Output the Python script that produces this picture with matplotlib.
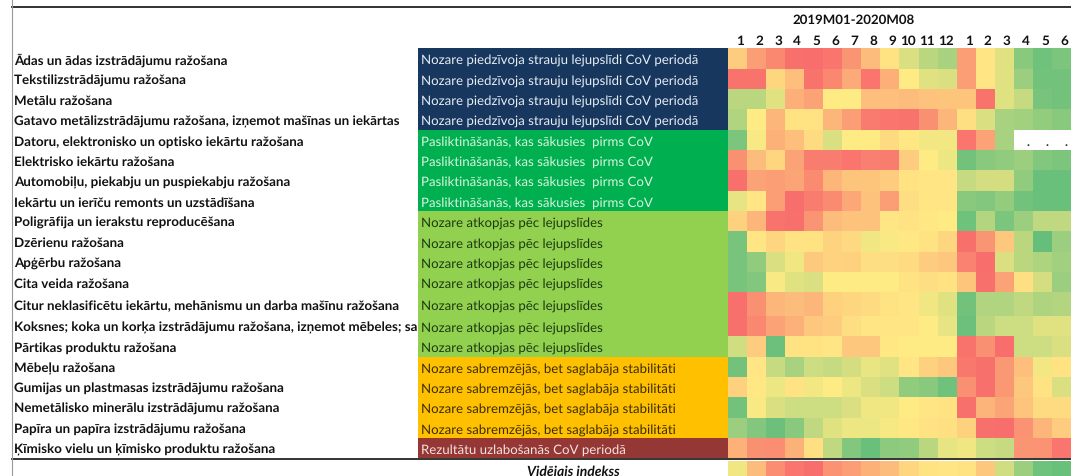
import numpy as np
import matplotlib
matplotlib.use('Agg')
import matplotlib.pyplot as plt
from matplotlib.colors import LinearSegmentedColormap

# Sector names, groups and month labels
sectors = [
    'Ādas un ādas izstrādājumu ražošana',
    'Tekstilizstrādājumu ražošana',
    'Metālu ražošana',
    'Gatavo metālizstrādājumu ražošana, izņemot mašīnas un iekārtas',
    'Datoru, elektronisko un optisko iekārtu ražošana',
    'Elektrisko iekārtu ražošana',
    'Automobiļu, piekabju un puspiekabju ražošana',
    'Iekārtu un ierīču remonts un uzstādīšana',
    'Poligrāfija un ierakstu reproducēšana',
    'Dzērienu ražošana',
    'Apģērbu ražošana',
    'Cita veida ražošana',
    'Citur neklasificētu iekārtu, mehānismu un darba mašīnu ražošana',
    'Koksnes; koka un korķa izstrādājumu ražošana, izņemot mēbeles; sa',
    'Pārtikas produktu ražošana',
    'Mēbeļu ražošana',
    'Gumijas un plastmasas izstrādājumu ražošana',
    'Nemetālisko minerālu izstrādājumu ražošana',
    'Papīra un papīra izstrādājumu ražošana',
    'Ķīmisko vielu un ķīmisko produktu ražošana',
]
group_names = [
    'Nozare piedzīvoja strauju lejupslīdi CoV periodā',
    'Pasliktināšanās, kas sākusies  pirms CoV',
    'Nozare atkopjas pēc lejupslīdes',
    'Nozare sabremzējās, bet saglabāja stabilitāti',
    'Rezultātu uzlabošanās CoV periodā',
]
group_sizes = [4, 4, 7, 4, 1]
group_colors = ['#17375E', '#00B050', '#92D050', '#FFC000', '#953735']
group_text = ['#E8EEF4', '#D8F5DC', '#1C3A10', '#3A2C00', '#F4E4E2']
months = [1, 2, 3, 4, 5, 6, 7, 8, 9, 10, 11, 12, 1, 2, 3, 4, 5, 6]

# Index: 0 = red, 50 = yellow, 100 = green
nan = np.nan
index_rows = [
    [38, 20, 12, 3, 2, 5, 17, 32, 47, 62, 72, 78, 20, 48, 60, 88, 96, 92],
    [4, 4, 42, 33, 4, 12, 25, 5, 27, 50, 60, 62, 20, 48, 60, 82, 95, 95],
    [72, 72, 60, 27, 22, 50, 50, 33, 33, 32, 34, 35, 35, 4, 60, 68, 93, 95],
    [75, 50, 30, 47, 47, 30, 20, 7, 5, 4, 15, 30, 46, 62, 78, 80, 84, 88],
    [92, 52, 28, 33, 44, 62, 50, 50, 44, 49, 54, 54, 5, 22, 78, nan, nan, nan],
    [15, 32, 42, 22, 8, 8, 5, 9, 8, 38, 50, 56, 95, 88, 85, 82, 90, 92],
    [3, 22, 20, 23, 13, 30, 35, 35, 38, 47, 48, 48, 68, 64, 64, 85, 98, 98],
    [58, 48, 20, 2, 8, 13, 24, 34, 20, 45, 48, 48, 88, 90, 84, 95, 98, 98],
    [40, 30, 4, 3, 17, 32, 34, 34, 48, 47, 49, 50, 96, 74, 92, 82, 70, 70],
    [93, 48, 42, 47, 47, 41, 43, 55, 52, 49, 47, 42, 3, 17, 36, 72, 99, 82],
    [93, 85, 62, 55, 37, 41, 40, 45, 45, 44, 38, 36, 10, 2, 62, 72, 76, 80],
    [93, 90, 52, 60, 62, 50, 50, 50, 50, 47, 45, 47, 35, 3, 22, 46, 64, 82],
    [3, 15, 30, 32, 30, 40, 42, 44, 47, 48, 55, 60, 95, 75, 75, 70, 76, 74],
    [3, 12, 22, 28, 36, 38, 45, 48, 48, 48, 50, 58, 97, 72, 66, 66, 60, 60],
    [65, 38, 97, 47, 47, 48, 36, 36, 49, 50, 50, 50, 4, 15, 2, 66, 66, 62],
    [95, 48, 68, 78, 66, 68, 64, 57, 60, 48, 40, 36, 6, 3, 18, 33, 54, 47],
    [40, 49, 56, 47, 54, 50, 56, 62, 66, 85, 88, 96, 15, 3, 18, 36, 47, 62],
    [95, 52, 62, 66, 66, 66, 62, 55, 55, 50, 48, 47, 3, 29, 23, 35, 44, 44],
    [82, 90, 97, 88, 70, 60, 56, 56, 53, 49, 47, 46, 40, 3, 2, 16, 30, 38],
    [28, 15, 14, 28, 46, 70, 90, 98, 86, 85, 72, 58, 55, 66, 68, 17, 16, 5],
]
average_row = [55, 32, 14, 5, 2, 16, 20, 28, 32, 42, 47, 48, 47, 36, 65, 82, 96, 98]

# Excel style three colour scale
cmap = LinearSegmentedColormap.from_list('excel', ['#F8696B', '#FFEB84', '#63BE7B'])
cmap.set_bad('white')

plt.rcParams['font.family'] = ['Lato', 'DejaVu Sans']
plt.rcParams['text.hinting'] = 'none'  # hinting snaps widths at these small sizes
fig = plt.figure(figsize=(10.71, 4.77), dpi=100)
# Whole figure is one axes in pixel units, y pointing down
ax = fig.add_axes([0, 0, 1, 1])
ax.set_xlim(0, 1071)
ax.set_ylim(477, 0)
ax.axis('off')

# Table layout, row 13 is taller than the rest
top = 49.3
row_h = 20.35
heights = [row_h] * 20
heights[12] = 23.4
y_edges = top + np.concatenate([[0], np.cumsum(heights)])
x_edges = 728 + 19.05 * np.arange(19)
y_mid = (y_edges[:-1] + y_edges[1:]) / 2

ax.pcolormesh(x_edges, y_edges, np.ma.masked_invalid(index_rows), cmap=cmap, vmin=0, vmax=100, zorder=2)
ax.pcolormesh(x_edges, [462, 477], [average_row], cmap=cmap, vmin=0, vmax=100, zorder=2)

# Sector names
for y, name in zip(y_mid, sectors):
    ax.text(14, y + 1, name, fontsize=9.68, fontweight='bold', color='#111111', va='center', ha='left', zorder=1)

# Group column
start = 0
for name, size, color, tcolor in zip(group_names, group_sizes, group_colors, group_text):
    ax.fill_between([417.5, 728.2], y_edges[start], y_edges[start + size], color=color, lw=0, zorder=2)
    for y in y_mid[start:start + size]:
        ax.text(421, y + 1, name, fontsize=9.5, color=tcolor, va='center', ha='left', zorder=3)
    start += size

# Header
ax.text(853.5, 20.5, '2019M01-2020M08', fontsize=9.5, fontweight='bold', color='#111111', ha='center', va='center')
for right, m in zip(x_edges[1:], months):
    ax.text(right - 3, 41, str(m), fontsize=9.7, fontweight='bold', color='#111111', ha='right', va='center')

# Missing months of the computer sector
for right in x_edges[-3:]:
    ax.text(right - 3, y_mid[4] + 1, '.', fontsize=9, fontweight='bold', color='#333333', ha='right', va='center', zorder=3)

ax.text(573, 472, 'Vidējais indekss', fontsize=10, fontweight='bold', fontstyle='italic', color='#111111', ha='center', va='center')

# Table borders
ax.plot([11.5, 1071], [8, 8], color='#222222', lw=1.3, zorder=4)
ax.plot([11.5, 1071], [460.3, 460.3], color='#111111', lw=1.2, zorder=4)
ax.plot([11.5, 11.5], [0, 477], color='#999999', lw=0.8, zorder=4)

plt.savefig('out.png', dpi=100)
